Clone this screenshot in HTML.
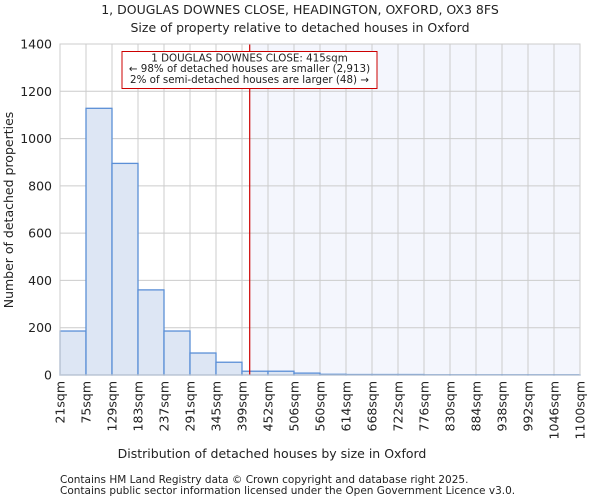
<!DOCTYPE html>
<html><head><meta charset="utf-8"><style>
body{margin:0;background:#fff;font-family:"DejaVu Sans","Liberation Sans",sans-serif}
svg text{font-family:"DejaVu Sans","Liberation Sans",sans-serif;fill:#222}
</style></head><body>
<svg width="600" height="500" xmlns="http://www.w3.org/2000/svg">
<text x="300" y="14" font-size="12.5" text-anchor="middle">1, DOUGLAS DOWNES CLOSE, HEADINGTON, OXFORD, OX3 8FS</text>
<text x="300" y="32" font-size="12.5" text-anchor="middle">Size of property relative to detached houses in Oxford</text>
<g id="plot"></g>
<text x="272" y="458" font-size="12.5" text-anchor="middle">Distribution of detached houses by size in Oxford</text>
<text transform="translate(13,210) rotate(-90)" font-size="12.5" text-anchor="middle">Number of detached properties</text>
<text x="60" y="483" font-size="10.5">Contains HM Land Registry data © Crown copyright and database right 2025.</text>
<text x="60" y="494" font-size="10.5">Contains public sector information licensed under the Open Government Licence v3.0.</text>
</svg>
<script>
const binLabels=["21sqm","75sqm","129sqm","183sqm","237sqm","291sqm","345sqm","399sqm","452sqm","506sqm","560sqm","614sqm","668sqm","722sqm","776sqm","830sqm","884sqm","938sqm","992sqm","1046sqm","1100sqm"];
const counts=[186,1128,895,360,186,93,54,16,16,8,3,2,2,2,1,1,1,1,1,1];
const yTicks=[0,200,400,600,800,1000,1200,1400];
const subjectSize=415;
const binStart=21, binStep=54;
const L=60,R=580,T=44,B=375,yMax=1400;
const ns="http://www.w3.org/2000/svg";
const g=document.getElementById('plot');
const bw=(R-L)/counts.length;
const xPos=i=>L+i*bw;
const yPos=v=>B-(v/yMax)*(B-T);
const xVal=s=>L+(s-binStart)/binStep*bw;
function mk(t,a){const e=document.createElementNS(ns,t);for(const k in a)e.setAttribute(k,a[k]);g.appendChild(e);return e;}
const sx=xVal(subjectSize);
let e=mk('rect',{x:sx,y:T,width:R-sx,height:B-T,fill:'#f4f6fd'});


yTicks.forEach(v=>{
 let l=mk('line',{x1:L,x2:R,y1:yPos(v),y2:yPos(v),stroke:'#cccccc','stroke-width':1});
 
 
 let t=mk('text',{x:L-8,y:yPos(v)+4.5,'font-size':12.5,'text-anchor':'end'});t.textContent=v;
 
 
});
binLabels.forEach((s,i)=>{
 let l=mk('line',{x1:xPos(i),x2:xPos(i),y1:T,y2:B,stroke:'#cccccc','stroke-width':1});
 
 
 let t=mk('text',{transform:`translate(${xPos(i)+4.5},${B+6}) rotate(-90)`,'font-size':12.5,'text-anchor':'end'});t.textContent=s;
 
 
});
counts.forEach((c,i)=>{
 let r=mk('rect',{x:xPos(i),y:yPos(c),width:bw,height:B-yPos(c),fill:'#dde6f4',stroke:'#5b8fd6','stroke-width':1.3});
 
 
});
e=mk('line',{x1:sx,x2:sx,y1:T,y2:B,stroke:'#cc0000','stroke-width':1.2});


e=mk('rect',{x:122,y:51.5,width:255,height:37,fill:'#fff',stroke:'#cc0000','stroke-width':1});


["1 DOUGLAS DOWNES CLOSE: 415sqm","← 98% of detached houses are smaller (2,913)","2% of semi-detached houses are larger (48) →"].forEach((s,i)=>{
 let t=mk('text',{x:249.5,y:61.5+i*10.7,'font-size':10.3,'text-anchor':'middle'});t.textContent=s;
 
 
});
e=mk('rect',{x:L,y:T,width:R-L,height:B-T,fill:'none',stroke:'#cccccc','stroke-width':1});


</script>
</body></html>
